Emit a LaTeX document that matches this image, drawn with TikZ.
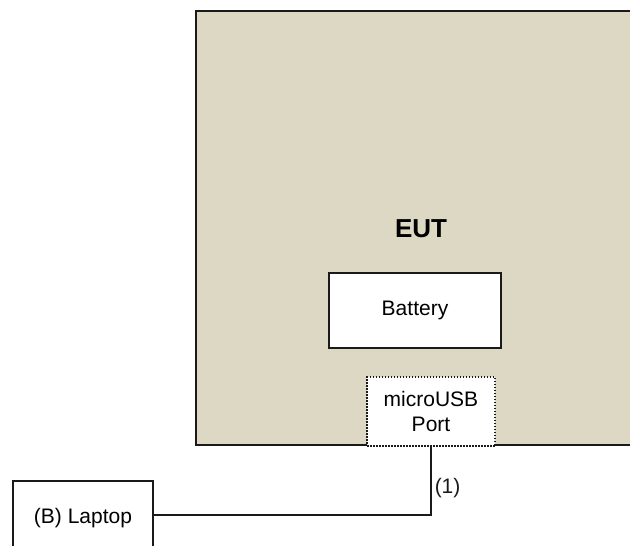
\documentclass[tikz,border=0pt]{standalone}
\usepackage{fontspec}
\setmainfont{Liberation Sans}
\usepackage{tikz}
\usetikzlibrary{
  arrows.meta,
  positioning
}
\definecolor{eutFill}{HTML}{DDD8C3}
\definecolor{eutLine}{HTML}{1A1A1A}
\tikzset{
  eutnode/.style={
    draw=eutLine, line width=2pt, fill=eutFill, inner sep=0pt,
    minimum width=450pt, minimum height=434pt
  },
  unitbox/.style={
    draw=eutLine, line width=2pt, fill=white, inner sep=0pt,
    font=\fontsize{21}{25}\selectfont, align=center
  },
  portbox/.style={unitbox, line width=1.5pt, dash pattern=on 1.5pt off 1.5pt},
  euttitle/.style={font=\fontsize{26}{30}\selectfont\bfseries, inner sep=0pt},
  cable/.style={line width=1.5pt, eutLine},
  tag/.style={font=\fontsize{21}{25}\selectfont, anchor=west, inner sep=3pt}
}
\begin{document}
\begin{tikzpicture}[x=1pt, y=-1pt]
  \clip (0,0) rectangle (630,546);
  \fill[white] (0,0) rectangle (630,546);
  \node[eutnode] (eut) at (421,228) {};
  \node[euttitle] (title) at (421,229) {EUT};
  \node[unitbox, minimum width=172pt, minimum height=75pt] (battery) at (415,310.5) {Battery};
  \node[portbox, minimum width=128pt, minimum height=69pt] (port) at (431,411.5) {microUSB\\Port};
  \node[unitbox, minimum width=140pt, minimum height=74pt] (laptop) at (83,518) {(B) Laptop};
  \draw[cable] (port.south) |- node[tag, pos=0.3] {(1)} ([yshift=3pt]laptop.east);
\end{tikzpicture}
\end{document}
